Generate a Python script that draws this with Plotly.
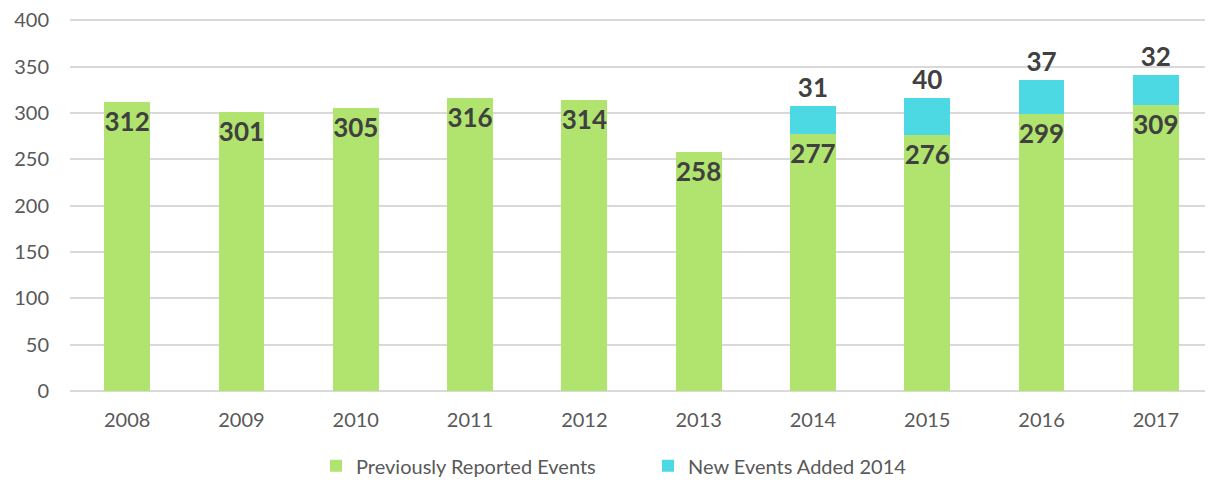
import plotly.graph_objects as go

years = ["2008", "2009", "2010", "2011", "2012", "2013", "2014", "2015", "2016", "2017"]
previous = [312, 301, 305, 316, 314, 258, 277, 276, 299, 309]
new_added = [None, None, None, None, None, None, 31, 40, 37, 32]

GREEN = "#B0E46E"
CYAN = "#4DD9E3"
FONT = "Lato, 'Open Sans', sans-serif"

fig = go.Figure()
fig.add_trace(go.Bar(
    x=years, y=previous, name="Previously Reported Events",
    marker=dict(color=GREEN, line=dict(width=0)),
    text=[str(v) for v in previous], textposition="inside", textangle=0,
    insidetextanchor="end", constraintext="none",
    textfont=dict(family=FONT, size=26, color="#404040", weight="bold"),
    width=0.4,
))
fig.add_trace(go.Bar(
    x=years, y=new_added, name="New Events Added 2014",
    marker=dict(color=CYAN, line=dict(width=0)),
    text=["" if v is None else str(v) for v in new_added], textposition="outside", textangle=0,
    constraintext="none",
    textfont=dict(family=FONT, size=26, color="#404040", weight="bold"),
    width=0.4, cliponaxis=False,
))

# page body has an 8px default margin; figure sized/offset to compensate
fig.update_layout(
    barmode="stack",
    width=1205, height=471,
    margin=dict(l=62, r=0, t=11, b=88, autoexpand=False),
    plot_bgcolor="white", paper_bgcolor="white",
    font=dict(family=FONT, size=20, color="#595959"),
    showlegend=True,
    legend=dict(orientation="h", xref="container", x=0.2556, xanchor="left",
                yref="container", y=0.028, yanchor="middle",
                font=dict(size=20, color="#595959"), traceorder="normal",
                itemwidth=30, entrywidth=287, entrywidthmode="pixels"),
)
fig.update_yaxes(range=[0, 401.6], tickvals=[0, 50, 100, 150, 200, 250, 300, 350, 400],
                 showgrid=True, gridcolor="#D9D9D9", gridwidth=1.5, ticklabeloverflow="allow",
                 zeroline=True, zerolinecolor="#D9D9D9", zerolinewidth=1.5, automargin=False,
                 ticks="", ticklabelstandoff=20, tickfont=dict(size=20, color="#595959"))
fig.update_xaxes(showgrid=False, ticks="", showline=False, automargin=False,
                 ticklabelstandoff=15, tickfont=dict(size=20, color="#595959"))

fig.write_html("out.html")
